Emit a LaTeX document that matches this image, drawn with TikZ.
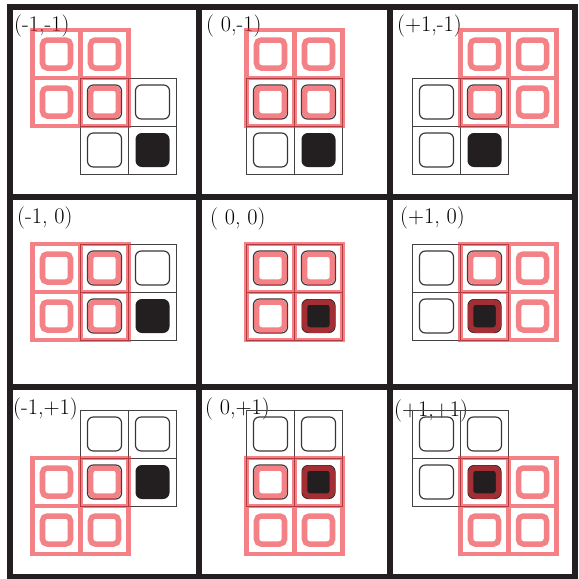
\documentclass[tikz,border=0pt]{standalone}
\usepackage{xcolor}
\usepackage{tikz}
\usetikzlibrary{positioning}
\definecolor{inkcolor}{RGB}{35,31,32}
\definecolor{markcolor}{RGB}{238,55,64}

\begin{document}
\begin{tikzpicture}[
    x=0.03cm, y=-0.03cm,
    frameline/.style={line width=5.1pt, inkcolor},
    cellgrid/.style={line width=0.8pt, inkcolor!85},
    cellbox/.style={line width=1pt, inkcolor!90, rounded corners=5pt},
    fullbox/.style={fill=inkcolor, rounded corners=5.5pt},
    markgrid/.style={line width=4.2pt, markcolor, draw opacity=0.63},
    markbox/.style={line width=4.7pt, markcolor, draw opacity=0.63, rounded corners=4pt},
    offset/.style={anchor=north west, inner sep=0pt, font=\fontsize{19}{22}\selectfont}
]
    \useasboundingbox (0,0) rectangle (578,579);

    % Frame and dividers
    \draw[frameline] (10,7) rectangle (575,577);
    \draw[frameline] (199,7) -- (199,577) (390,7) -- (390,577);
    \draw[frameline] (10,197) -- (575,197) (10,387) -- (575,387);

    % Panels: kernel offset, label and its place
    \foreach \dx/\dy/\txt/\lx/\ly [count=\i] in {
        -1/-1/{(-1,-1)}/14/15, 0/-1/{( 0,-1)}/206/15, 1/-1/{(+1,-1)}/397/15,
        -1/0/{(-1, 0)}/17/207, 0/0/{( 0, 0)}/210/208, 1/0/{(+1, 0)}/400/207,
        -1/1/{(-1,+1)}/13/398, 0/1/{( 0,+1)}/205/398, 1/1/{(+1,+1)}/394/400}
    {
        \node[offset] (label\i) at (\lx,\ly) {\txt};
        \pgfmathsetmacro\bx{294.5+190*\dx-24*\dx-48}
        \pgfmathsetmacro\by{292+190*\dy-24*\dy-48}
        \begin{scope}[shift={(\bx,\by)}]
            % input cells
            \draw[cellgrid] (0,0) rectangle (96,96) (48,0) -- (48,96) (0,48) -- (96,48);
            \draw[cellbox] (7,7) rectangle ++(34,34) (55,7) rectangle ++(34,34)
                (7,55) rectangle ++(34,34);
            \fill[fullbox] (55,55) rectangle ++(34,34);
            % shifted kernel
            \begin{scope}[shift={({48*\dx},{48*\dy})}]
                \draw[markgrid] (0,0) rectangle (96,96) (48,0) -- (48,96) (0,48) -- (96,48);
                \draw[markbox] (10,10) rectangle ++(28,28) (58,10) rectangle ++(28,28)
                    (10,58) rectangle ++(28,28) (58,58) rectangle ++(28,28);
            \end{scope}
        \end{scope}
    }
\end{tikzpicture}
\end{document}
